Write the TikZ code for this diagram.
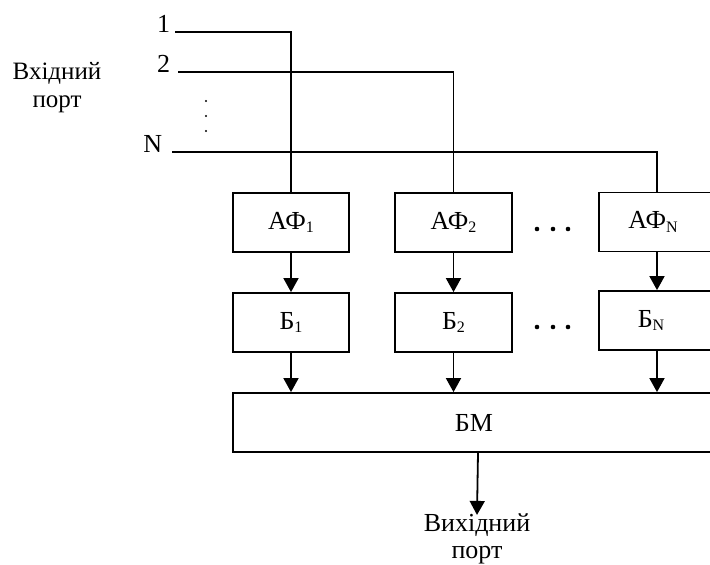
\documentclass[tikz,border=0pt]{standalone}
\usepackage{fontspec}
\setmainfont{Liberation Serif}
\usetikzlibrary{arrows.meta}
\newcommand{\lidx}[1]{\raisebox{-0.3ex}{\fontsize{16}{16}\selectfont #1}}
\begin{document}
\begin{tikzpicture}[x=1pt,y=-1pt, line width=1.8pt,
  blk/.style={draw, minimum height=59pt, minimum width=116pt, inner sep=0pt, font=\fontsize{26}{30}\selectfont},
  arr/.style={-{Triangle[width=15pt,length=14pt]}},
  lbl/.style={font=\fontsize{25}{28}\selectfont, inner sep=0pt, align=center},
  dotc/.style={fill=black}]
\useasboundingbox (0,0) rectangle (710,565);
% input labels
\node[lbl, anchor=center] (inp) at (57,88) {Вхідний\\порт};
\node[lbl, font=\fontsize{26}{28}\selectfont, anchor=base east] (l1) at (171,32) {1};
\node[lbl, font=\fontsize{26}{28}\selectfont, anchor=base east] (l2) at (171,72) {2};
\node[lbl, font=\fontsize{26}{28}\selectfont, anchor=base east] (lN) at (163,152) {N};
% blocks
\node[blk] (af1) at (291,222.5) {АФ\lidx{1}};
\node[blk, minimum width=117pt] (af2) at (453.5,222.5) {АФ\lidx{2}};
\node[blk] (afN) at (657,222) {\hspace*{-4pt}АФ\lidx{N}\hspace*{4pt}};
\node[blk] (b1) at (291,322.5) {Б\lidx{1}};
\node[blk, minimum width=117pt] (b2) at (453.5,322.5) {Б\lidx{2}};
\node[blk] (bN) at (657,320.5) {\hspace*{-6pt}Б\lidx{N}\hspace*{6pt}};
\node[blk, minimum width=482pt] (bm) at (474,422.5) {БМ};
\node[lbl, font=\fontsize{26}{27}\selectfont, anchor=center] (out) at (477,539) {Вихідний\\порт};
% input lines
\draw (l1.base east) ++(4,0) coordinate (s1) -| (af1.north);
\draw (l2.base east) ++(7,0) coordinate (s2) -| (af2.north);
\draw (lN.base east) ++(9,0) coordinate (sN) -| (afN.north);
% vertical dots
\foreach \yy in {101,116,131} \fill (206,\yy) circle (1.1pt);
% horizontal dots
\foreach \xx in {537,553,568} {\fill (\xx,229) circle (2.3pt); \fill (\xx,327) circle (2.3pt);}
% arrows
\draw[arr] (af1.south) -- (b1.north);
\draw[arr] (af2.south) -- (b2.north);
\draw[arr] (afN.south) -- (bN.north);
\draw[arr] (b1.south) -- (b1.south |- bm.north);
\draw[arr] (b2.south) -- (b2.south |- bm.north);
\draw[arr] (bN.south) -- (bN.south |- bm.north);
\draw[arr] ([xshift=4pt]bm.south) -- ([yshift=-2pt]out.north);
\end{tikzpicture}
\end{document}
